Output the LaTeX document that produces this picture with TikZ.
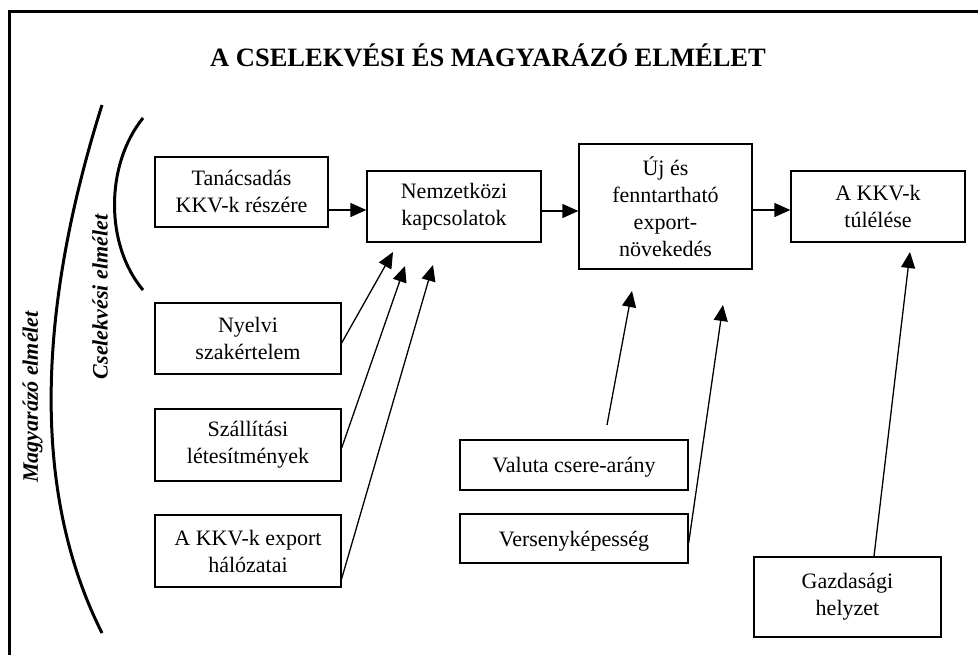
\documentclass[tikz,border=0pt]{standalone}
\usepackage{fontspec}
\setmainfont{Liberation Serif}
\usetikzlibrary{arrows.meta}
\begin{document}
\begin{tikzpicture}[x=1pt,y=-1pt,
  box/.style={draw,line width=1.3pt,inner sep=0pt,align=center,
    font=\fontsize{22pt}{27pt}\selectfont},
  oneline/.style={box,text depth=0pt},
  arr/.style={line width=1.3pt,-{Triangle[length=16pt,width=14pt]}},
  bracketline/.style={line width=3pt},
  side/.style={rotate=90,font=\fontsize{22pt}{26pt}\selectfont\bfseries\itshape}]
\useasboundingbox (0,0) rectangle (978,655);

% frame (top and left edges)
\draw[line width=3pt] (9,655) -- (9,12) -- (978,12);

% title
\node[anchor=base,font=\fontsize{26.5pt}{30pt}\selectfont\bfseries] (title) at (488,67)
  {A CSELEKVÉSI ÉS MAGYARÁZÓ ELMÉLET};

% theory brackets
\draw[bracketline] (102,105) .. controls (50,270) and (20,470) .. (102,633);
\draw[bracketline] (143,118) .. controls (105,165) and (105,245) .. (143,290);
\node[side] (cs) at (100,297) {Cselekvési elmélet};
\node[side] (ma) at (32.5,397) {Magyarázó elmélet};

% boxes
\node[box,minimum width=173pt,minimum height=70pt] (tan) at (241.5,192) {Tanácsadás\\KKV-k részére};
\node[box,minimum width=174pt,minimum height=71pt] (nem) at (454,206.5) {Nemzetközi\\kapcsolatok};
\node[box,minimum width=173pt,minimum height=125pt] (uj) at (665.5,206.5) {Új és\\fenntartható\\export-\\növekedés};
\node[box,minimum width=174pt,minimum height=71pt] (surv) at (878,206.5) {A KKV-k\\túlélése};
\node[box,minimum width=186pt,minimum height=71pt] (nyelv) at (248,338.5) {Nyelvi\\szakértelem};
\node[box,minimum width=186pt,minimum height=72pt] (szall) at (248,445) {Szállítási\\létesítmények};
\node[box,minimum width=186pt,minimum height=72pt] (exp) at (248,551) {A KKV-k export\\hálózatai};
\node[oneline,minimum width=228pt,minimum height=50pt] (val) at (574,465) {Valuta csere-arány};
\node[oneline,minimum width=228pt,minimum height=49pt] (vers) at (574,538.5) {Versenyképesség};
\node[box,minimum width=187pt,minimum height=80pt] (gazd) at (847.5,597) {Gazdasági\\helyzet};

% main chain
\coordinate (h1) at ([yshift=-3.5pt]nem.west);
\coordinate (h2) at ([yshift=-4.5pt]nem.east);
\coordinate (h3) at ([yshift=-3.5pt]surv.west);
\draw[arr] (tan.east |- h1) -- (h1);
\draw[arr] (h2) -- (uj.west |- h2);
\draw[arr] (uj.east |- h3) -- (h3);

% arrow tips below the chain
\coordinate (t1) at (393,252);
\coordinate (t2) at (405,266);
\coordinate (t3) at (433,265);
\coordinate (t4) at (632,291);
\coordinate (t5) at (723,305);
\coordinate (t6) at (910,252);
\coordinate (v0) at (607,425);

\draw[arr] ([yshift=-4.5pt]nyelv.east) -- (t1);
\draw[arr] ([yshift=-3pt]szall.east) -- (t2);
\draw[arr] ([yshift=9pt]exp.south east) -- (t3);
\draw[arr] (v0) -- (t4);
\draw[arr] ([yshift=-4.5pt]vers.east) -- (t5);
\draw[arr] ([xshift=26.5pt]gazd.north) -- (t6);
\end{tikzpicture}
\end{document}
